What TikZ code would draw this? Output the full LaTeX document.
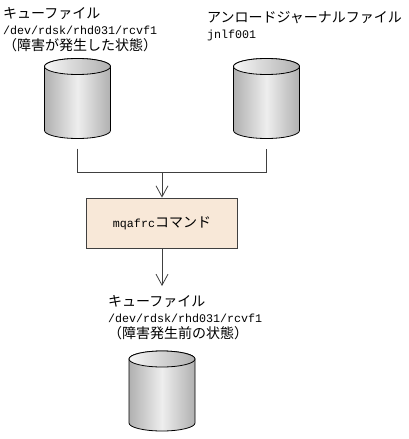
\documentclass[tikz,border=0pt]{standalone}
\usepackage{fontspec}
\setmainfont{Liberation Mono}
\newfontfamily\jpfont{Noto Sans CJK JP}
\newcommand{\jp}[1]{{\jpfont\fontsize{14}{16}\selectfont #1}}
\setlength{\lineskiplimit}{-20pt}
\usepackage{xcolor}
\usetikzlibrary{arrows.meta,positioning,calc}
\definecolor{inkline}{HTML}{404040}
\definecolor{cmdfill}{HTML}{F8E8D8}
\definecolor{cylside}{HTML}{B0B0B0}
\definecolor{cyllight}{HTML}{EEEEEE}
\begin{document}
\begin{tikzpicture}[
    x=1pt, y=-1pt,
    font=\fontsize{11.67}{16}\selectfont,
    cyl/.style={inner sep=0pt, outer sep=0pt, minimum width=66pt, minimum height=80pt},
    cylbody/.style={draw=black, line width=0.8pt, left color=cylside, right color=cylside, middle color=cyllight},
    cylcap/.style={draw=black, line width=0.8pt, left color=cyllight!50!white, right color=cylside},
    lbl/.style={align=left, inner sep=0pt, anchor=north west, text=black},
    cmdbox/.style={draw=inkline, line width=0.8pt, fill=cmdfill, minimum width=151pt,
                   minimum height=50pt, inner sep=0pt},
    flow/.style={-{Straight Barb[length=11pt,width=12pt]}, line width=0.8pt, draw=inkline},
    feed/.style={line width=0.8pt, draw=inkline, shorten <=10pt, shorten >=10pt},
  ]
  \useasboundingbox (0,0) rectangle (408,439);
  \node[lbl] (srclbl) at (3,7.5) {\jp{キューファイル}\\/dev/rdsk/rhd031/rcvf1\\\jp{（障害が発生した状態）}};
  \node[lbl] (jnllbl) at (207,11) {\jp{アンロードジャーナルファイル}\\jnlf001};
  \node[cyl] (srcq) at (77.5,98.5) {};
  \node[cyl] (jnl) at (266.5,98.5) {};
  \node[cmdbox] (cmd) at (162,223) {mqafrc\jp{コマンド}};
  \node[lbl] (dstlbl) at (108,295) {\jp{キューファイル}\\/dev/rdsk/rhd031/rcvf1\\\jp{（障害発生前の状態）}};
  \node[cyl] (dstq) at (162,391) {};

  % bodies and caps of the cylinders
  \foreach \c in {srcq,jnl,dstq} {
    \draw[cylbody] ($(\c.north west)+(0,8)$) -- ($(\c.south west)+(0,-8)$)
      arc [start angle=180, end angle=360, x radius=33pt, y radius=8pt]
      -- ($(\c.north east)+(0,8)$)
      arc [start angle=0, end angle=180, x radius=33pt, y radius=8pt] -- cycle;
    \draw[cylcap] ($(\c.north)+(0,8)$) ellipse [x radius=33pt, y radius=8pt];
  }

  % inputs join above the command
  \coordinate (merge) at ($(srcq.south)+(0,34)$);
  \draw[feed] (srcq.south) -- (merge) -| (jnl.south);
  \draw[flow] (cmd.north |- merge) -- (cmd.north);
  \draw[flow, shorten >=9pt] (cmd.south) -- (cmd.south |- dstlbl.north);
\end{tikzpicture}
\end{document}
